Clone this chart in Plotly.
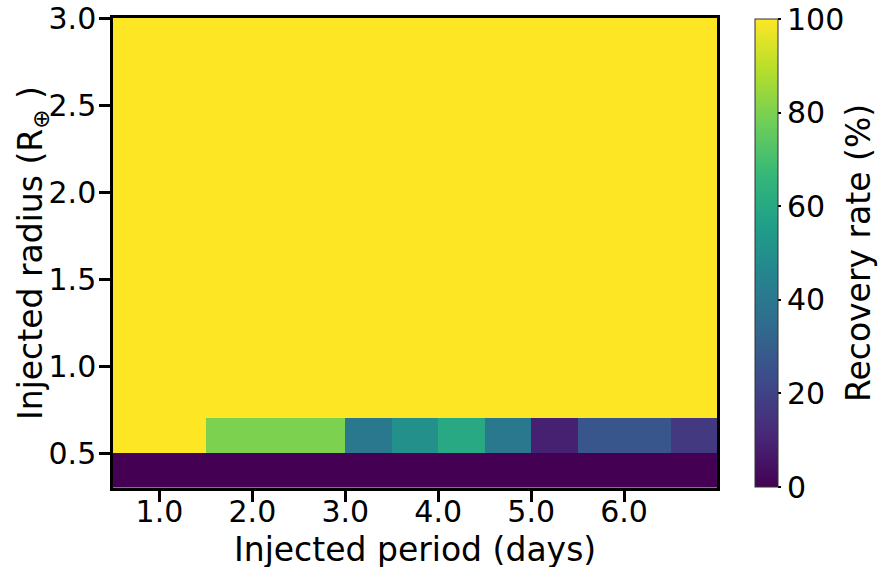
import plotly.graph_objects as go

# Period bin edges (days) and radius bin edges (R_earth)
period_edges = [0.5, 1.0, 1.5, 2.0, 2.5, 3.0, 3.5, 4.0, 4.5, 5.0, 5.5, 6.0, 6.5, 7.0]
radius_edges = [0.3, 0.5, 0.7, 0.9, 1.1, 1.3, 1.5, 1.7, 1.9, 2.1, 2.3, 2.5, 2.7, 2.9, 3.1]

# Recovery rate (%) per row of radius, columns per period bin
row_r0 = [0, 0, 0, 0, 0, 0, 0, 0, 0, 0, 0, 0, 0]
row_r1 = [100, 100, 80, 80, 80, 40, 50, 60, 40, 9, 27, 27, 17]
row_full = [100] * 13
recovery = [row_r0, row_r1] + [row_full] * 12

x_ticks = [1, 2, 3, 4, 5, 6]
y_ticks = [0.5, 1.0, 1.5, 2.0, 2.5, 3.0]

FONT = "DejaVu Sans"
TICK_SIZE = 30
TITLE_SIZE = 33

W, H = 878, 567
L, T = 113, 18
PW, PH = 604, 470

fig = go.Figure(
    go.Heatmap(
        x=period_edges,
        y=radius_edges,
        z=recovery,
        zmin=0,
        zmax=100,
        colorscale="Viridis",
        zsmooth=False,
        colorbar=dict(
            x=(755 - L) / PW,
            xanchor="left",
            y=0.5,
            yanchor="middle",
            len=0.995,
            lenmode="fraction",
            thickness=23,
            thicknessmode="pixels",
            outlinewidth=1,
            outlinecolor="#333333",
            tickvals=[0, 20, 40, 60, 80, 100],
            ticks="outside",
            ticklen=3,
            tickwidth=1.5,
            tickcolor="black",
            ticklabeloverflow="allow",
            tickfont=dict(family=FONT, size=TICK_SIZE, color="black"),
            xpad=0,
            ypad=0,
        ),
    )
)

axis_common = dict(
    showline=True,
    linewidth=2.5,
    linecolor="black",
    mirror=True,
    ticks="outside",
    ticklen=11,
    tickwidth=2.5,
    tickcolor="black",
    showgrid=False,
    zeroline=False,
    automargin=False,
    ticklabeloverflow="allow",
    tickfont=dict(family=FONT, size=TICK_SIZE, color="black"),
)

fig.update_xaxes(
    **axis_common,
    range=[0.5, 7.0],
    tickvals=x_ticks,
    tickformat=".1f",
    ticklabelstandoff=-16,
)
fig.update_yaxes(
    **axis_common,
    range=[0.3, 3.0],
    tickvals=y_ticks,
    tickformat=".1f",
    ticklabelstandoff=-3,
)

title_font = dict(family=FONT, size=TITLE_SIZE, color="black")
fig.add_annotation(text="Injected period (days)", xref="paper", yref="paper",
                   x=0.5, y=(T + PH - 549) / PH, xanchor="center", yanchor="middle",
                   showarrow=False, font=title_font)
fig.add_annotation(text="Injected radius (R<sub>⊕</sub> )", xref="paper", yref="paper",
                   x=(32 - L) / PW, y=0.5, xanchor="center", yanchor="middle",
                   textangle=-90, showarrow=False, font=title_font)
fig.add_annotation(text="Recovery rate (%)", xref="paper", yref="paper",
                   x=(858 - L) / PW, y=0.5, xanchor="center", yanchor="middle",
                   textangle=-90, showarrow=False, font=title_font)

fig.update_layout(
    width=W,
    height=H,
    margin=dict(l=L, r=W - L - PW, t=T, b=H - T - PH, autoexpand=False),
    paper_bgcolor="white",
    plot_bgcolor="white",
    font=dict(family=FONT, color="black"),
)

# remove the default 8px page margin so the figure fills the window exactly
fig.write_html("out.html", config={"displayModeBar": False},
               post_script="document.body.style.margin='0px';")
